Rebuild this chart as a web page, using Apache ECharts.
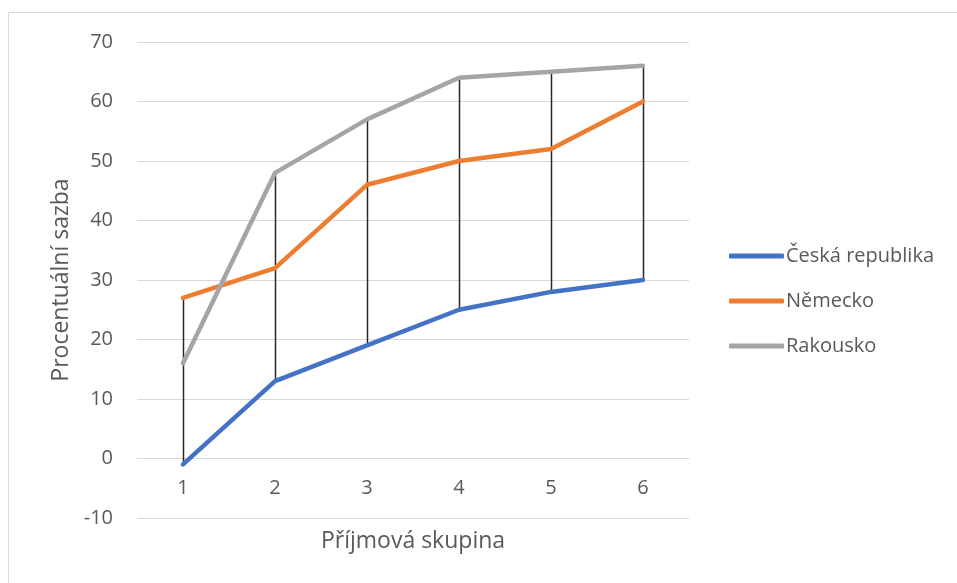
<!DOCTYPE html>
<html>
<head>
<meta charset="utf-8">
<script src="https://cdn.jsdelivr.net/npm/echarts@6/dist/echarts.min.js"></script>
<style>
  html, body { margin: 0; padding: 0; background: #fff; }
  #chart { width: 957px; height: 583px; }
</style>
</head>
<body>
<div id="chart"></div>
<script>
// Income groups and top tax rates (%) per country
const categories = ['1', '2', '3', '4', '5', '6'];
const ceskaRepublika = [-1, 13, 19, 25, 28, 30];
const nemecko = [27, 32, 46, 50, 52, 60];
const rakousko = [16, 48, 57, 64, 65, 66];

// High-low range per income group, derived from the three series
const highLow = categories.map((c, i) => {
  const vals = [ceskaRepublika[i], nemecko[i], rakousko[i]];
  return [i, Math.min.apply(null, vals), Math.max.apply(null, vals)];
});

const FONT = '"Open Sans", "Noto Sans", sans-serif';
const TEXT = '#595959';

const chart = echarts.init(document.getElementById('chart'));

function lineSeries(name, data, color) {
  return {
    name: name,
    type: 'line',
    data: data,
    symbol: 'none',
    z: 3,
    lineStyle: { color: color, width: 4.5, cap: 'round', join: 'round' },
    itemStyle: { color: color }
  };
}

chart.setOption({
  animation: false,
  backgroundColor: '#fff',
  textStyle: { fontFamily: FONT },
  graphic: [{
    type: 'rect',
    shape: { x: 8.5, y: 12.5, width: 1200, height: 1200 },
    style: { fill: 'none', stroke: '#d9d9d9', lineWidth: 1 },
    silent: true
  }],
  grid: { left: 137, right: 268, top: 42, bottom: 65, containLabel: false, outerBoundsMode: 'none' },
  legend: {
    orient: 'vertical',
    left: 724,
    top: 241,
    icon: 'roundRect',
    itemWidth: 55,
    itemHeight: 5,
    itemGap: 25,
    data: ['Česká republika', 'Německo', 'Rakousko'],
    textStyle: { color: TEXT, fontSize: 20, fontFamily: FONT, padding: [0, 0, 0, -3] }
  },
  xAxis: {
    type: 'category',
    data: categories,
    name: 'Příjmová skupina',
    nameLocation: 'middle',
    nameGap: 71,
    nameTextStyle: { color: TEXT, fontSize: 23, fontFamily: FONT },
    offset: -59.5,
    axisLine: { show: true, onZero: false, lineStyle: { color: '#d9d9d9' } },
    axisTick: { show: false },
    axisLabel: { color: TEXT, fontSize: 20, margin: 20, fontFamily: FONT },
    splitLine: { show: false }
  },
  yAxis: {
    type: 'value',
    min: -10,
    max: 70,
    interval: 10,
    name: 'Procentuální sazba',
    nameLocation: 'middle',
    nameGap: 62,
    nameTextStyle: { color: TEXT, fontSize: 23, fontFamily: FONT },
    axisLine: { show: false },
    axisTick: { show: false },
    axisLabel: { color: TEXT, fontSize: 20, margin: 24, fontFamily: FONT },
    splitLine: { lineStyle: { color: '#d9d9d9', width: 1 } }
  },
  series: [
    {
      name: 'highLow',
      type: 'custom',
      z: 2,
      silent: true,
      data: highLow,
      renderItem: function (params, api) {
        const lo = api.coord([api.value(0), api.value(1)]);
        const hi = api.coord([api.value(0), api.value(2)]);
        const x = Math.round(lo[0]) + 0.5;
        return {
          type: 'line',
          shape: { x1: x, y1: lo[1], x2: x, y2: hi[1] },
          style: { stroke: '#262626', lineWidth: 1.5 }
        };
      }
    },
    lineSeries('Česká republika', ceskaRepublika, '#4472C4'),
    lineSeries('Německo', nemecko, '#ED7D31'),
    lineSeries('Rakousko', rakousko, '#A5A5A5')
  ]
});
</script>
</body>
</html>
